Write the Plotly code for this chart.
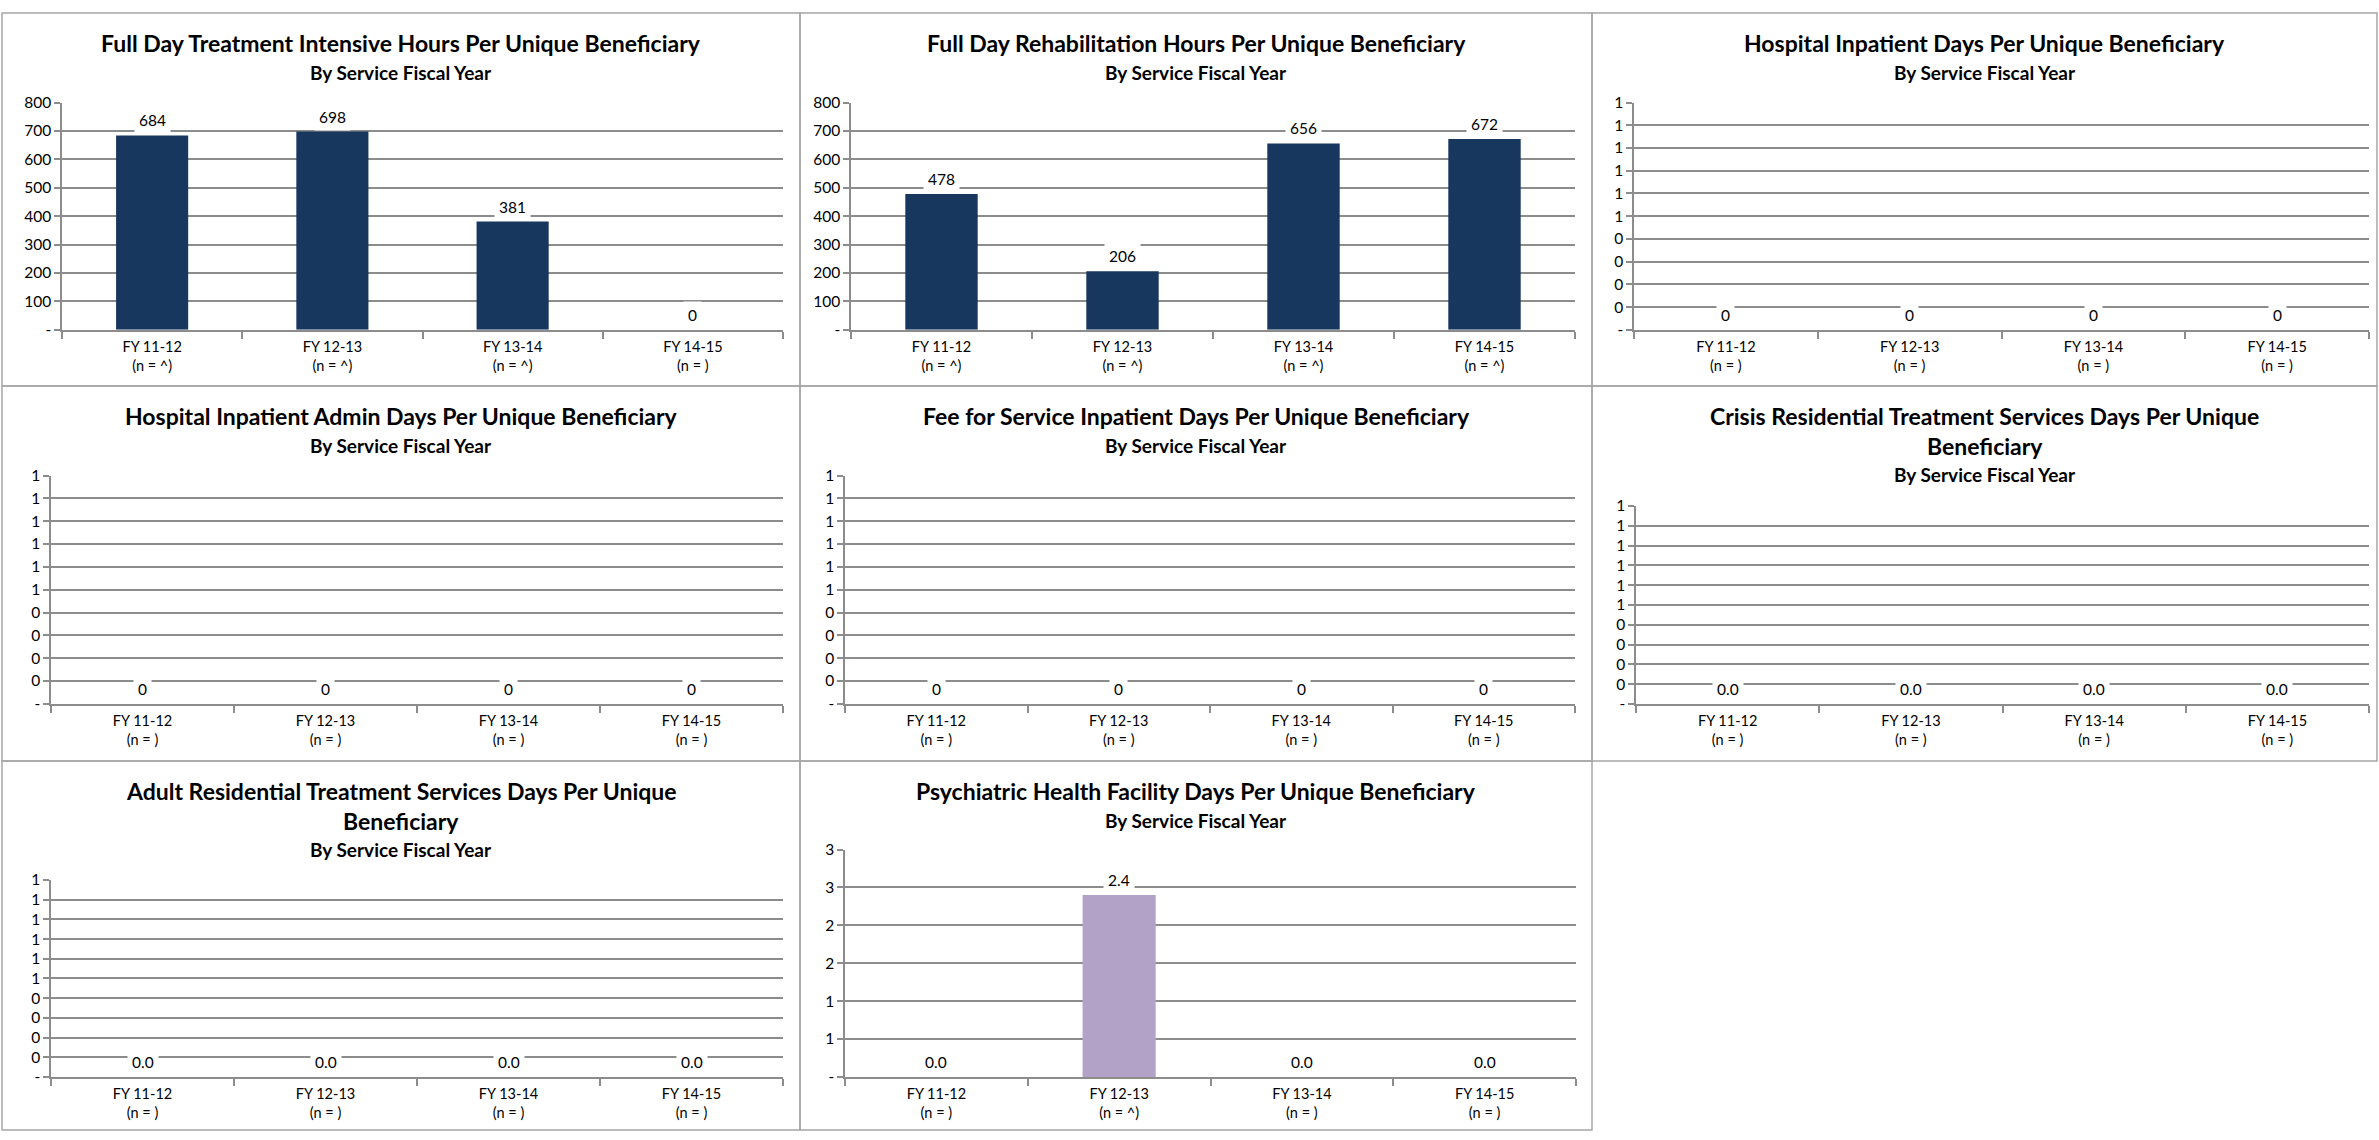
import plotly.graph_objects as go

# ---------------- data ----------------
categories = ["FY 11-12", "FY 12-13", "FY 13-14", "FY 14-15"]

titles = [
    ["Full Day Treatment Intensive Hours Per Unique Beneficiary"],
    ["Full Day Rehabilitation Hours Per Unique Beneficiary"],
    ["Hospital Inpatient Days Per Unique Beneficiary"],
    ["Hospital Inpatient Admin Days Per Unique Beneficiary"],
    ["Fee for Service Inpatient Days Per Unique Beneficiary"],
    ["Crisis Residential Treatment Services Days Per Unique", "Beneficiary"],
    ["Adult Residential Treatment Services Days Per Unique", "Beneficiary"],
    ["Psychiatric Health Facility Days Per Unique Beneficiary"],
]
subtitle = "By Service Fiscal Year"

fdti_values = [684, 698, 381, 0]
fdr_values = [478, 206, 656, 672]
hosp_values = [0, 0, 0, 0]
hosp_admin_values = [0, 0, 0, 0]
ffs_values = [0, 0, 0, 0]
crisis_values = [0, 0, 0, 0]
adult_values = [0, 0, 0, 0]
phf_values = [0, 2.4, 0, 0]

fdti_n = ["^", "^", "^", ""]
fdr_n = ["^", "^", "^", "^"]
empty_n = ["", "", "", ""]
phf_n = ["", "^", "", ""]

hours_tick_vals = [0, 100, 200, 300, 400, 500, 600, 700, 800]
hours_tick_text = ["-", "100", "200", "300", "400", "500", "600", "700", "800"]
unit_tick_vals = [0, 0.1, 0.2, 0.3, 0.4, 0.5, 0.6, 0.7, 0.8, 0.9, 1.0]
unit_tick_text = ["-", "0", "0", "0", "0", "1", "1", "1", "1", "1", "1"]
phf_tick_vals = [0, 0.5, 1, 1.5, 2, 2.5, 3]
phf_tick_text = ["-", "1", "1", "2", "2", "3", "3"]

# ---------------- layout / style ----------------
W, H = 2379, 1140
NAVY = "#17375E"
PURPLE = "#B3A2C7"
GRID = "#8C8C8C"
BORDER = "#A6A6A6"
FONT = "Lato, 'Open Sans', sans-serif"

panels = [
    dict(v=fdti_values, n=fdti_n, tv=hours_tick_vals, tt=hours_tick_text, fmt="{:.0f}", c=NAVY,
         px=(62, 783), py=(94, 325), box=(2, 3, 800, 382)),
    dict(v=fdr_values, n=fdr_n, tv=hours_tick_vals, tt=hours_tick_text, fmt="{:.0f}", c=NAVY,
         px=(851, 1575), py=(94, 325), box=(800, 3, 1592, 382)),
    dict(v=hosp_values, n=empty_n, tv=unit_tick_vals, tt=unit_tick_text, fmt="{:.0f}", c=NAVY,
         px=(1634, 2369), py=(94, 325), box=(1592, 3, 2377, 382)),
    dict(v=hosp_admin_values, n=empty_n, tv=unit_tick_vals, tt=unit_tick_text, fmt="{:.0f}", c=NAVY,
         px=(51, 783), py=(473, 705), box=(2, 382, 800, 763)),
    dict(v=ffs_values, n=empty_n, tv=unit_tick_vals, tt=unit_tick_text, fmt="{:.0f}", c=NAVY,
         px=(845, 1575), py=(473, 705), box=(800, 382, 1592, 763)),
    dict(v=crisis_values, n=empty_n, tv=unit_tick_vals, tt=unit_tick_text, fmt="{:.1f}", c=NAVY,
         px=(1636, 2369), py=(504, 705), box=(1592, 382, 2377, 763)),
    dict(v=adult_values, n=empty_n, tv=unit_tick_vals, tt=unit_tick_text, fmt="{:.1f}", c=NAVY,
         px=(51, 783), py=(884, 1084), box=(2, 763, 800, 1138)),
    dict(v=phf_values, n=phf_n, tv=phf_tick_vals, tt=phf_tick_text, fmt="{:.1f}", c=PURPLE,
         px=(845, 1576), py=(853, 1084), box=(800, 763, 1592, 1138)),
]


def fx(p):
    return p / W


def fy(p):
    return 1 - p / H


fig = go.Figure()
shapes = []
annotations = []
layout_axes = {}

for i, (p, title_lines) in enumerate(zip(panels, titles), start=1):
    xa = "x" if i == 1 else f"x{i}"
    ya = "y" if i == 1 else f"y{i}"
    ticklabels = [f"{c}<br>(n = {n})" for c, n in zip(categories, p["n"])]
    fig.add_trace(go.Bar(
        x=categories, y=p["v"], xaxis=xa, yaxis=ya,
        marker=dict(color=p["c"], line=dict(width=0)),
        showlegend=False, hoverinfo="x+y",
    ))
    for c, v in zip(categories, p["v"]):
        annotations.append(dict(
            x=c, y=v, xref=xa, yref=ya, text=p["fmt"].format(v),
            showarrow=False, yanchor="middle", yshift=15,
            bgcolor="white", borderpad=4,
            font=dict(family=FONT, size=15.5, color="#000000"),
        ))
    x0, x1 = p["px"]
    yt, yb = p["py"]
    layout_axes["xaxis" if i == 1 else f"xaxis{i}"] = dict(
        domain=[fx(x0), fx(x1)], anchor=ya, type="category",
        tickmode="array", tickvals=categories, ticktext=ticklabels,
        tickson="boundaries", ticks="outside", ticklen=7, tickcolor=GRID, tickwidth=1.5,
        ticklabelstandoff=3,
        showline=True, linecolor=GRID, linewidth=1.5, showgrid=False, fixedrange=True,
        tickfont=dict(family=FONT, size=14.5, color="#000000"),
    )
    layout_axes["yaxis" if i == 1 else f"yaxis{i}"] = dict(
        domain=[fy(yb), fy(yt)], anchor=xa, range=[0, p["tv"][-1]],
        tickmode="array", tickvals=p["tv"], ticktext=p["tt"],
        ticks="outside", ticklen=6, tickcolor=GRID, tickwidth=1.5,
        showline=True, linecolor=GRID, linewidth=1.5,
        showgrid=True, gridcolor=GRID, gridwidth=1.5, zeroline=False, fixedrange=True,
        tickfont=dict(family=FONT, size=15.5, color="#000000"),
    )
    bx0, by0, bx1, by1 = p["box"]
    shapes.append(dict(type="rect", xref="paper", yref="paper",
                       x0=fx(bx0), x1=fx(bx1), y0=fy(by1), y1=fy(by0),
                       line=dict(color=BORDER, width=1.5), layer="below"))
    cx = (bx0 + bx1) / 2
    line_y = by0 + 31
    for line in title_lines:
        annotations.append(dict(
            x=fx(cx), y=fy(line_y), xref="paper", yref="paper", text=f"<b>{line}</b>",
            showarrow=False, xanchor="center", yanchor="middle",
            font=dict(family=FONT, size=23, color="#000000"),
        ))
        line_y += 30
    annotations.append(dict(
        x=fx(cx), y=fy(line_y - 1), xref="paper", yref="paper", text=f"<b>{subtitle}</b>",
        showarrow=False, xanchor="center", yanchor="middle",
        font=dict(family=FONT, size=19, color="#000000"),
    ))

fig.update_layout(
    autosize=True, margin=dict(l=0, r=0, t=0, b=0),
    paper_bgcolor="white", plot_bgcolor="white",
    bargap=0.6, shapes=shapes, annotations=annotations,
    font=dict(family=FONT), **layout_axes,
)

fig.write_html(
    "out.html",
    config={"displayModeBar": False, "responsive": True},
    default_width="100vw",
    default_height="100vh",
    post_script=(
        "document.documentElement.style.margin='0';"
        "document.body.style.margin='0';document.body.style.overflow='hidden';"
        "Plotly.Plots.resize(document.getElementById('{plot_id}'));"
    ),
)
